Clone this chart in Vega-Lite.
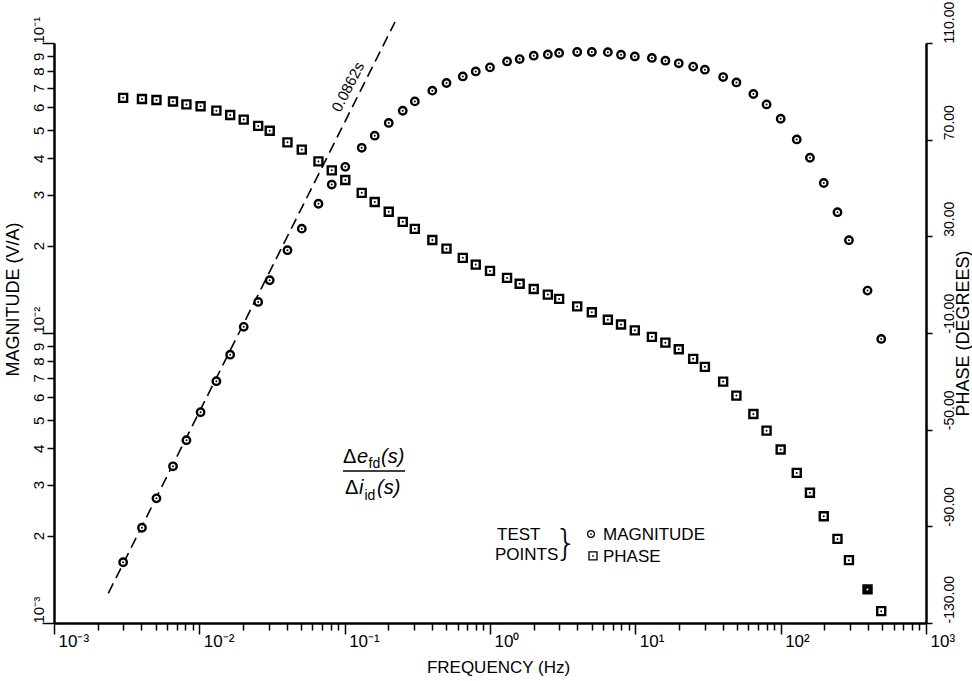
{
  "$schema": "https://vega.github.io/schema/vega-lite/v6.json",
  "width": 872,
  "height": 580,
  "autosize": {"type": "none"},
  "padding": {"left": 54, "top": 43, "right": 46, "bottom": 58},
  "background": "white",
  "config": {
    "view": {"stroke": null},
    "font": "Liberation Sans",
    "axis": {
      "grid": false,
      "domainColor": "black",
      "domainWidth": 2.5,
      "tickColor": "black",
      "tickWidth": 1.5,
      "labelColor": "black",
      "titleColor": "black",
      "labelFont": "Liberation Sans",
      "titleFont": "Liberation Sans",
      "titleFontWeight": "normal",
      "labelOverlap": false,
      "labelBound": false,
      "labelFlush": false
    }
  },
  "datasets": {
    "pts": [
      {"freq": 0.00299, "mag": 0.00162, "phase": 87.3},
      {"freq": 0.00403, "mag": 0.00213, "phase": 86.8},
      {"freq": 0.00507, "mag": 0.00269, "phase": 86.4},
      {"freq": 0.00659, "mag": 0.00347, "phase": 85.8},
      {"freq": 0.00815, "mag": 0.00427, "phase": 84.6},
      {"freq": 0.0102, "mag": 0.00533, "phase": 83.8},
      {"freq": 0.0131, "mag": 0.00682, "phase": 82.0},
      {"freq": 0.0163, "mag": 0.00842, "phase": 80.2},
      {"freq": 0.0202, "mag": 0.0105, "phase": 78.3},
      {"freq": 0.0254, "mag": 0.0128, "phase": 75.7},
      {"freq": 0.0305, "mag": 0.0152, "phase": 73.7},
      {"freq": 0.0404, "mag": 0.0193, "phase": 68.9},
      {"freq": 0.0507, "mag": 0.0229, "phase": 65.9},
      {"freq": 0.066, "mag": 0.0279, "phase": 61.0},
      {"freq": 0.0815, "mag": 0.0325, "phase": 57.3},
      {"freq": 0.101, "mag": 0.0374, "phase": 53.3},
      {"freq": 0.131, "mag": 0.0435, "phase": 48.0},
      {"freq": 0.161, "mag": 0.0479, "phase": 44.2},
      {"freq": 0.201, "mag": 0.053, "phase": 40.2},
      {"freq": 0.251, "mag": 0.0584, "phase": 36.0},
      {"freq": 0.304, "mag": 0.0629, "phase": 33.1},
      {"freq": 0.401, "mag": 0.0685, "phase": 28.5},
      {"freq": 0.502, "mag": 0.0728, "phase": 24.9},
      {"freq": 0.65, "mag": 0.0767, "phase": 21.1},
      {"freq": 0.798, "mag": 0.0798, "phase": 18.3},
      {"freq": 1.0, "mag": 0.0824, "phase": 15.7},
      {"freq": 1.31, "mag": 0.0864, "phase": 12.8},
      {"freq": 1.6, "mag": 0.088, "phase": 10.4},
      {"freq": 2.0, "mag": 0.0904, "phase": 8.2},
      {"freq": 2.5, "mag": 0.0913, "phase": 5.9},
      {"freq": 2.99, "mag": 0.0924, "phase": 4.1},
      {"freq": 3.98, "mag": 0.0931, "phase": 1.0},
      {"freq": 5.02, "mag": 0.0931, "phase": -1.4},
      {"freq": 6.47, "mag": 0.093, "phase": -4.5},
      {"freq": 7.97, "mag": 0.0911, "phase": -6.5},
      {"freq": 9.92, "mag": 0.0899, "phase": -8.9},
      {"freq": 13.0, "mag": 0.0888, "phase": -11.6},
      {"freq": 16.1, "mag": 0.0869, "phase": -14.0},
      {"freq": 19.9, "mag": 0.0851, "phase": -16.7},
      {"freq": 25.0, "mag": 0.0829, "phase": -20.7},
      {"freq": 30.1, "mag": 0.0809, "phase": -24.0},
      {"freq": 40.2, "mag": 0.0763, "phase": -30.1},
      {"freq": 49.6, "mag": 0.0731, "phase": -35.9},
      {"freq": 64.9, "mag": 0.0667, "phase": -43.5},
      {"freq": 80.0, "mag": 0.0614, "phase": -50.4},
      {"freq": 100, "mag": 0.0548, "phase": -58.2},
      {"freq": 129, "mag": 0.0465, "phase": -67.9},
      {"freq": 159, "mag": 0.0402, "phase": -76.1},
      {"freq": 198, "mag": 0.0329, "phase": -85.8},
      {"freq": 246, "mag": 0.0261, "phase": -95.2},
      {"freq": 295, "mag": 0.0209, "phase": -104.0},
      {"freq": 396, "mag": 0.014, "phase": -116.1},
      {"freq": 492, "mag": 0.00954, "phase": -125.1}
    ],
    "slope": [
      {"freq": 0.002363, "mag": 0.001266},
      {"freq": 0.22197, "mag": 0.11815}
    ],
    "slopeLabel": [{"freq": 0.10542, "mag": 0.07055, "t": "0.0862s"}],
    "fracUpright": [
      {"freq": 0.09739, "mag": 0.003563, "t": "Δ"},
      {"freq": 0.10053, "mag": 0.002785, "t": "Δ"}
    ],
    "fracItalic": [
      {"freq": 0.12159, "mag": 0.003563, "t": "e"},
      {"freq": 0.17783, "mag": 0.003563, "t": "(s)"},
      {"freq": 0.1255, "mag": 0.002785, "t": "i"},
      {"freq": 0.16694, "mag": 0.002785, "t": "(s)"}
    ],
    "fracSub": [
      {"freq": 0.14588, "mag": 0.003424, "t": "fd"},
      {"freq": 0.13692, "mag": 0.002656, "t": "id"}
    ],
    "fracLine": [{"freq": 0.09739, "freq2": 0.26018, "mag": 0.003343}],
    "legendText": [
      {"freq": 1.1173, "mag": 0.0019329, "t": "TEST"},
      {"freq": 1.0824, "mag": 0.0016495, "t": "POINTS"},
      {"freq": 5.9903, "mag": 0.0019329, "t": "MAGNITUDE"},
      {"freq": 5.9903, "mag": 0.0016235, "t": "PHASE"}
    ],
    "brace": [{"freq": 3.3337, "mag": 0.0017163, "t": "}"}],
    "legendCircle": [{"freq": 4.954, "mag": 0.002027}],
    "legendSquare": [{"freq": 5.1134, "mag": 0.0017027}]
  },
  "encoding": {
    "x": {
      "field": "freq", "type": "quantitative",
      "scale": {"type": "log", "domain": [0.001, 1000], "nice": false},
      "axis": {
        "orient": "bottom",
        "title": "FREQUENCY (Hz)",
        "values": [0.001,0.002,0.003,0.004,0.005,0.006,0.007,0.008,0.009,0.01,0.02,0.03,0.04,0.05,0.06,0.07,0.08,0.09,0.1,0.2,0.3,0.4,0.5,0.6,0.7,0.8,0.9,1,2,3,4,5,6,7,8,9,10,20,30,40,50,60,70,80,90,100,200,300,400,500,600,700,800,900,1000],
        "tickCount": 100,
        "labelExpr": "datum.value === 0.001 ? '10⁻³' : datum.value === 0.01 ? '10⁻²' : datum.value === 0.1 ? '10⁻¹' : datum.value === 1 ? '10⁰' : datum.value === 10 ? '10¹' : datum.value === 100 ? '10²' : datum.value === 1000 ? '10³' : ''",
        "tickSize": {"condition": {"test": "indexof([0.001,0.01,0.1,1,10,100,1000], datum.value) >= 0", "value": 11}, "value": 7},
        "labelAlign": "left",
        "labelBaseline": "alphabetic",
        "labelPadding": {"condition": {"test": "indexof([0.001,0.01,0.1,1,10,100,1000], datum.value) >= 0", "value": 12}, "value": 16},
        "labelOffset": 4,
        "labelFontSize": 17,
        "titleFontSize": 17,
        "titleX": 444,
        "titleY": 49,
        "titleAlign": "center",
        "titleBaseline": "alphabetic"
      }
    }
  },
  "layer": [
    {
      "encoding": {
        "y": {
          "field": "mag", "type": "quantitative",
          "scale": {"type": "log", "domain": [0.001, 0.1], "nice": false},
          "axis": {
            "orient": "left",
            "title": "MAGNITUDE (V/A)",
            "values": [0.001,0.002,0.003,0.004,0.005,0.006,0.007,0.008,0.009,0.01,0.02,0.03,0.04,0.05,0.06,0.07,0.08,0.09,0.1],
            "tickCount": 100,
            "labelExpr": "datum.value === 0.001 ? '10⁻³' : datum.value === 0.01 ? '10⁻²' : datum.value === 0.1 ? '10⁻¹' : format(datum.value < 0.01 ? datum.value * 1000 : datum.value * 100, '.0f')",
            "tickSize": {"condition": {"test": "indexof([0.001,0.01,0.1], datum.value) >= 0", "value": 12}, "value": 7},
            "labelPadding": {"condition": {"test": "indexof([0.001,0.01,0.1], datum.value) >= 0", "value": -1}, "value": 4},
            "labelAngle": 270,
            "labelAlign": {"condition": {"test": "indexof([0.001,0.01,0.1], datum.value) >= 0", "value": "left"}, "value": "center"},
            "labelBaseline": "alphabetic",
            "labelFontSize": 15,
            "titleFontSize": 18,
            "titleAngle": 270,
            "titleX": -41,
            "titleY": 256,
            "titleAlign": "center",
            "titleBaseline": "middle"
          }
        }
      },
      "layer": [
        {
          "data": {"name": "slope"},
          "mark": {"type": "line", "color": "black", "strokeWidth": 1.6, "strokeDash": [11, 6]},
          "encoding": {}
        },
        {
          "data": {"name": "pts"},
          "mark": {"type": "point", "shape": "circle", "filled": true, "fill": "white", "stroke": "black", "strokeWidth": 2.4, "size": 55, "opacity": 1}
        },
        {
          "data": {"name": "pts"},
          "mark": {"type": "point", "shape": "circle", "filled": true, "color": "black", "size": 4, "opacity": 1}
        },
        {
          "data": {"name": "slopeLabel"},
          "mark": {"type": "text", "fontSize": 15, "angle": -63, "align": "center", "baseline": "middle", "color": "black"},
          "encoding": {"text": {"field": "t"}}
        },
        {
          "data": {"name": "fracUpright"},
          "mark": {"type": "text", "fontSize": 20, "align": "left", "baseline": "alphabetic", "color": "black"},
          "encoding": {"text": {"field": "t"}}
        },
        {
          "data": {"name": "fracItalic"},
          "mark": {"type": "text", "fontSize": 20, "fontStyle": "italic", "align": "left", "baseline": "alphabetic", "color": "black"},
          "encoding": {"text": {"field": "t"}}
        },
        {
          "data": {"name": "fracSub"},
          "mark": {"type": "text", "fontSize": 14, "align": "left", "baseline": "alphabetic", "color": "black"},
          "encoding": {"text": {"field": "t"}}
        },
        {
          "data": {"name": "fracLine"},
          "mark": {"type": "rule", "color": "black", "strokeWidth": 1.6},
          "encoding": {"x2": {"field": "freq2"}}
        },
        {
          "data": {"name": "legendText"},
          "mark": {"type": "text", "fontSize": 17, "align": "left", "baseline": "alphabetic", "color": "black"},
          "encoding": {"text": {"field": "t"}}
        },
        {
          "data": {"name": "brace"},
          "mark": {"type": "text", "font": "DejaVu Sans", "fontWeight": 200, "fontSize": 36, "align": "center", "baseline": "alphabetic", "color": "black"},
          "encoding": {"text": {"field": "t"}}
        },
        {
          "data": {"name": "legendCircle"},
          "mark": {"type": "point", "shape": "circle", "filled": true, "fill": "white", "stroke": "black", "strokeWidth": 1.3, "size": 45, "opacity": 1}
        },
        {
          "data": {"name": "legendSquare"},
          "mark": {"type": "point", "shape": "square", "filled": true, "fill": "white", "stroke": "black", "strokeWidth": 1.3, "size": 64, "opacity": 1}
        },
        {
          "data": {"name": "legendCircle"},
          "mark": {"type": "point", "shape": "circle", "filled": true, "color": "black", "size": 3, "opacity": 1}
        },
        {
          "data": {"name": "legendSquare"},
          "mark": {"type": "point", "shape": "circle", "filled": true, "color": "black", "size": 3, "opacity": 1}
        }
      ]
    },
    {
      "data": {"name": "pts"},
      "encoding": {
        "y": {
          "field": "phase", "type": "quantitative",
          "scale": {"domain": [-130, 110], "nice": false, "zero": false},
          "axis": {
            "orient": "right",
            "title": "PHASE (DEGREES)",
            "values": [-130, -90, -50, -10, 30, 70, 110],
            "labelExpr": "(datum.value < 0 ? '-' : '') + format(abs(datum.value), '.2f')",
            "tickSize": 6,
            "labelPadding": 10,
            "labelAngle": 270,
            "labelAlign": "left",
            "labelBaseline": "top",
            "labelFontSize": 14,
            "titleFontSize": 18,
            "titleAngle": 270,
            "titleX": 37,
            "titleY": 290,
            "titleAlign": "center",
            "titleBaseline": "middle"
          }
        }
      },
      "layer": [
        {
          "mark": {"type": "point", "shape": "square", "filled": true, "stroke": "black", "strokeWidth": 2.4, "size": 64, "opacity": 1},
          "encoding": {
            "fill": {"condition": {"test": "datum.freq === 396", "value": "black"}, "value": "white"}
          }
        },
        {
          "mark": {"type": "point", "shape": "circle", "filled": true, "size": 4, "opacity": 1},
          "encoding": {
            "color": {"condition": {"test": "datum.freq === 396", "value": "white"}, "value": "black"}
          }
        }
      ]
    }
  ],
  "resolve": {"scale": {"y": "independent"}, "axis": {"y": "independent"}}
}
